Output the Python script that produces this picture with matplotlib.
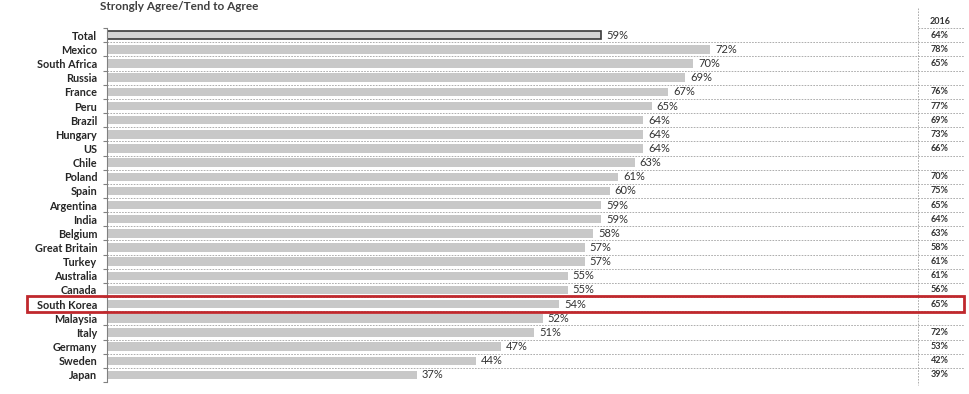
import matplotlib
matplotlib.use("Agg")
import matplotlib.pyplot as plt
from matplotlib.patches import Rectangle

# data
countries = ["Total", "Mexico", "South Africa", "Russia", "France", "Peru", "Brazil",
             "Hungary", "US", "Chile", "Poland", "Spain", "Argentina", "India",
             "Belgium", "Great Britain", "Turkey", "Australia", "Canada",
             "South Korea", "Malaysia", "Italy", "Germany", "Sweden", "Japan"]
values = [59, 72, 70, 69, 67, 65, 64, 64, 64, 63, 61, 60, 59, 59, 58, 57, 57,
          55, 55, 54, 52, 51, 47, 44, 37]
values_2016 = [64, 78, 65, None, 76, 77, 69, 73, 66, None, 70, 75, 65, 64, 63,
               58, 61, 61, 56, 65, None, 72, 53, 42, 39]
highlight = "South Korea"

plt.rcParams['font.family'] = ['Lato', 'DejaVu Sans']

fig = plt.figure(figsize=(9.7, 3.94), dpi=100)
ax = fig.add_axes([0.1103, 0.0305, 0.8845, 0.898])

ypos = list(range(len(countries)))
xmax = 102.4
col_x = 96.8

bar_colors = ['#d4d4d4'] + ['#c8c8c8'] * (len(countries) - 1)
bars = ax.barh(ypos, values, height=0.6, color=bar_colors, edgecolor='none', zorder=2)
bars[0].set_edgecolor('#3a3a3a')
bars[0].set_linewidth(1.2)

# row separators
for k in range(len(countries) - 1):
    ax.plot([0, xmax], [k + 0.5, k + 0.5], color='#a0a0a0', lw=0.6,
            linestyle=(0, (2, 1.5)), zorder=1)
ax.plot([col_x, xmax], [-0.5, -0.5], color='#a0a0a0', lw=0.6,
        linestyle=(0, (2, 1.5)), zorder=1)

# value labels
for y, v in zip(ypos, values):
    ax.text(v + 0.6, y, f"{v}%", va='center', ha='left', fontsize=8,
            color='#333333')

# 2016 column
ax.plot([col_x, col_x], [-1.9, 24.7], color='#a0a0a0', lw=0.6,
        linestyle=(0, (2, 1.5)), clip_on=False)
ax.text(99.4, -1.0, "2016", ha='center', va='center', fontsize=6.5,
        fontweight='bold', color='#333333')
for y, v in zip(ypos, values_2016):
    if v is not None:
        ax.text(99.4, y, f"{v}%", ha='center', va='center', fontsize=6.5,
                fontweight='bold', color='#333333')

# highlight box
hi = countries.index(highlight)
ax.add_patch(Rectangle((-9.5, hi - 0.55), xmax + 9.5 - 0.1, 1.1, fill=False,
                       edgecolor='#c0282d', lw=2, clip_on=False, zorder=5))

ax.set_xlim(0, xmax)
ax.set_ylim(len(countries) - 0.5, -0.5)
ax.set_yticks(ypos)
ax.set_yticklabels(countries, fontsize=7.8, fontweight='bold', color='#262626')
ax.set_yticks([k + 0.5 for k in range(-1, len(countries))], minor=True)
ax.tick_params(axis='y', which='major', length=0, pad=7)
ax.tick_params(axis='y', which='minor', length=3, color='#808080', width=0.8)
ax.set_xticks([])
for s in ['top', 'right', 'bottom']:
    ax.spines[s].set_visible(False)
ax.spines['left'].set_color('#808080')
ax.spines['left'].set_linewidth(0.8)

fig.text(0.103, 1 - 1 / 394, "Strongly Agree/Tend to Agree", fontsize=8.5,
         fontweight='bold', color='#404040', va='top')

fig.savefig("out.png", dpi=100)
